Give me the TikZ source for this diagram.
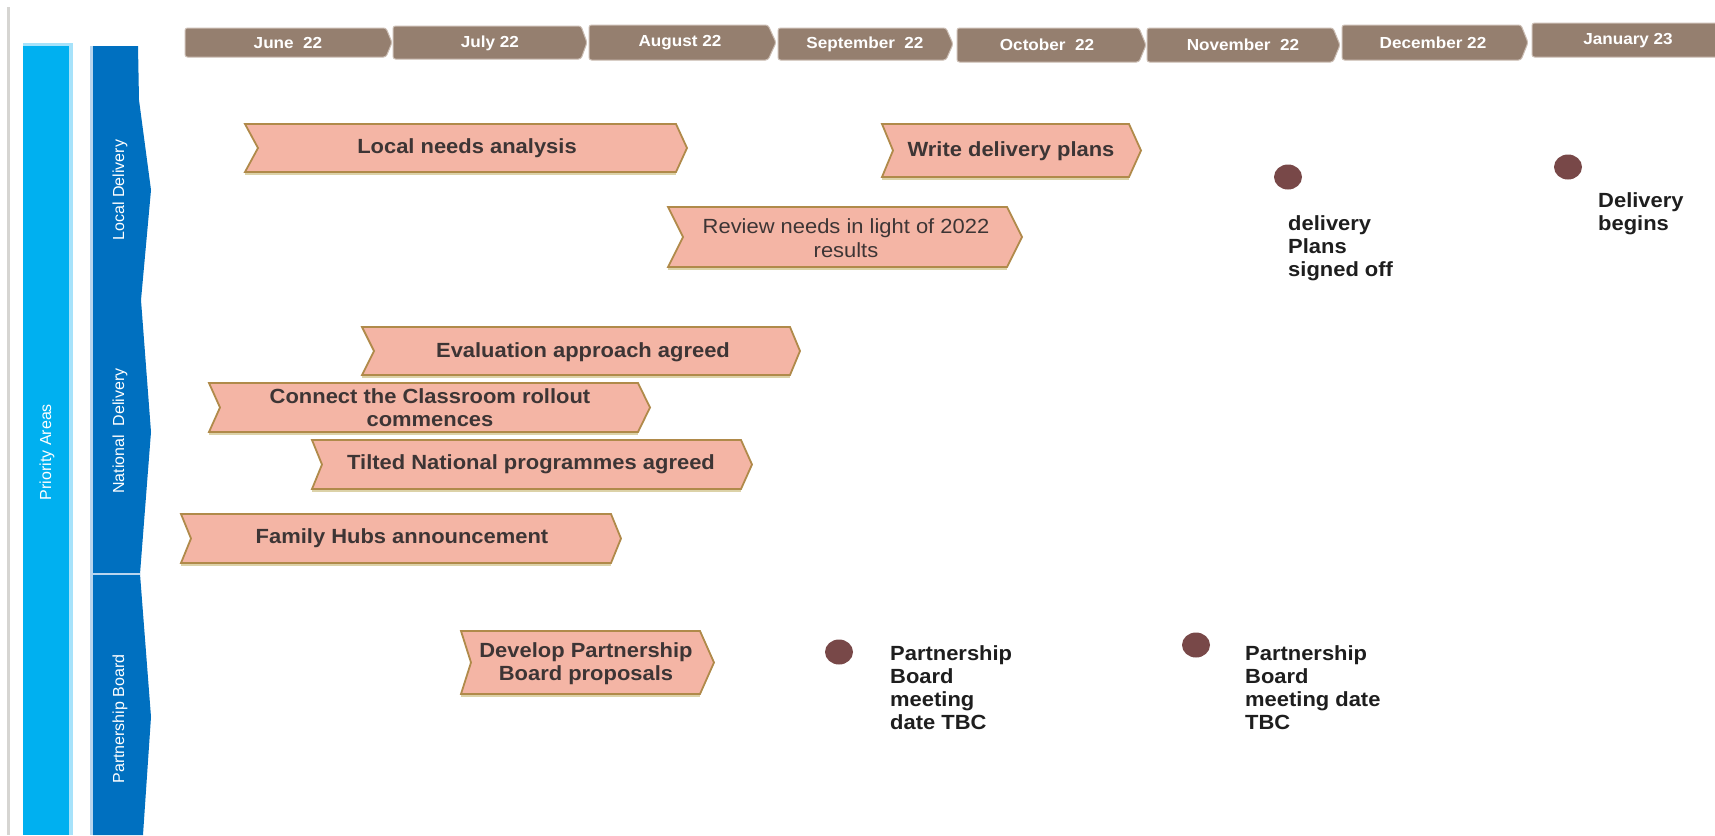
\documentclass[tikz,border=0pt]{standalone}
\usepackage{fontspec}
\setmainfont{Liberation Sans}[FakeStretch=1.07]
\newfontfamily\vfont{Liberation Sans}
\usetikzlibrary{shapes.geometric}
\definecolor{lblue}{HTML}{00B0F0}
\definecolor{lblueedge}{HTML}{A6E2FA}
\definecolor{dblue}{HTML}{0070C0}
\definecolor{dblueedge}{HTML}{B9D5EE}
\definecolor{monthc}{HTML}{957F6F}
\definecolor{monthedge}{HTML}{CBBDB3}
\definecolor{barfill}{HTML}{F4B5A5}
\definecolor{barline}{HTML}{B08A4A}
\definecolor{barshadow}{HTML}{DCD2A8}
\definecolor{bartxt}{HTML}{3D3535}
\definecolor{dotc}{HTML}{784848}
\definecolor{gline}{HTML}{D6D5D2}
\definecolor{mtxt}{HTML}{1E1E1E}
\newcommand\bfnt{\fontsize{20.5}{23}\selectfont\bfseries}
\newcommand\rfnt{\fontsize{20.5}{24}\selectfont}
\newcommand\taskbar[6]{% L notch R T y1 y2
  \draw[barshade] (#1,{#6+2.2}) -- (#3,{#6+2.2});
  \filldraw[barshape] (#1,#5) -- (#3,#5) -- (#4,{(#5+#6)/2}) -- (#3,#6) -- (#1,#6) -- ({#1+#2},{(#5+#6)/2}) -- cycle;}
\newcommand\monthbar[5]{% L R T y1 y2
  \filldraw[monthshape] (#1,#4) -- (#2,#4) -- (#3,{(#4+#5)/2}) -- (#2,#5) -- (#1,#5) -- cycle;}
\begin{document}
\begin{tikzpicture}[x=1pt,y=-1pt,
  barshape/.style={fill=barfill, draw=barline, line width=1.8pt, line join=miter},
  barshade/.style={draw=barshadow, line width=1.6pt},
  monthshape/.style={fill=monthc, draw=monthedge, line width=1pt, rounded corners=2.5pt},
  bartext/.style={text=bartxt, font=\bfnt, align=center, inner sep=0pt},
  bartextr/.style={text=bartxt, font=\rfnt, align=center, inner sep=0pt},
  monthtxt/.style={text=white, font=\fontsize{16}{18}\selectfont\bfseries, inner sep=0pt},
  vlabel/.style={text=white, font=\vfont\fontsize{16}{18}\selectfont, rotate=90, inner sep=0pt},
  dot/.style={ellipse, fill=dotc, minimum width=28, minimum height=25, inner sep=0pt},
  mtext/.style={text=mtxt, font=\bfnt, align=left, anchor=north west, inner sep=0pt}]
\path[use as bounding box] (0,0) rectangle (1715,835);
\fill[white] (0,0) rectangle (1715,835);
% left gray rule
\fill[gline] (7,7) rectangle (9.5,835);
% priority areas bar
\fill[lblueedge] (23,43) rectangle (73,835);
\fill[lblue] (23,46) rectangle (69,835);
% dark blue lanes
\fill[dblueedge] (90,46) rectangle (93,835);
\fill[dblue] (93,46) -- (138,46) -- (139,100) -- (151,190) -- (141,300) -- (151,432) -- (140,574)
  -- (151,717) -- (143,835) -- (93,835) -- cycle;
\draw[dblueedge, line width=2pt] (93,574) -- (140,574);
% month banners
\monthbar{185}{386}{392}{28}{57}
\monthbar{393}{581}{587}{26}{59}
\monthbar{589}{768}{776}{25}{60}
\monthbar{778}{946}{953}{28}{60}
\monthbar{957}{1139}{1146}{28}{62}
\monthbar{1147}{1333}{1340}{28}{62}
\monthbar{1342}{1521}{1528}{25}{60}
\monthbar{1532}{1722}{1722}{23}{57}
\node[monthtxt] (m1) at (288,43) {June\ \ 22};
\node[monthtxt] (m2) at (490,43) {July 22};
\node[monthtxt] (m3) at (680,43) {August 22};
\node[monthtxt] (m4) at (865,44) {September\ \ 22};
\node[monthtxt] (m5) at (1047,45) {October\ \ 22};
\node[monthtxt] (m6) at (1243,45) {November\ \ 22};
\node[monthtxt] (m7) at (1433,43) {December 22};
\node[monthtxt] (m8) at (1628,41) {January 23};
% lane labels
\node[vlabel] (pa) at (47,452) {Priority Areas};
\node[vlabel] (ld) at (120,190) {Local Delivery};
\node[vlabel] (nd) at (120,431) {National\ \ Delivery};
\node[vlabel] (pb) at (120,719) {Partnership Board};
% task bars
\taskbar{245}{13}{676}{687}{124}{172}
\taskbar{882}{11}{1129}{1141}{124}{177}
\taskbar{668}{15}{1007}{1022}{207}{267}
\taskbar{362}{12}{790}{800}{327}{375}
\taskbar{209}{11}{638}{650}{383}{432}
\taskbar{312}{10}{741}{752}{440}{489}
\taskbar{181}{10}{611}{621}{514}{563}
\taskbar{461}{10}{700}{714}{631}{694}
\node[bartext] (t1) at (467,148) {Local needs analysis};
\node[bartext] (t2) at (1011,151) {Write delivery plans};
\node[bartextr] (t3) at (846,238) {Review needs in light of 2022\\results};
\node[bartext] (t4) at (583,352) {Evaluation approach agreed};
\node[bartext] (t5) at (430,408) {Connect the Classroom rollout\\commences};
\node[bartext] (t6) at (531,464) {Tilted National programmes agreed};
\node[bartext] (t7) at (402,538) {Family Hubs announcement};
\node[bartext] (t8) at (586,664) {Develop Partnership\\Board proposals};
% milestones
\node[dot] (d1) at (1288,177) {};
\node[dot] (d2) at (1568,167) {};
\node[dot] (d3) at (839,652) {};
\node[dot] (d4) at (1196,645) {};
\node[mtext] (x1) at (1288,215) {delivery\\Plans\\signed off};
\node[mtext] (x2) at (1598,192) {Delivery\\begins};
\node[mtext] (x3) at (890,645) {Partnership\\Board\\meeting\\date TBC};
\node[mtext] (x4) at (1245,645) {Partnership\\Board\\meeting date\\TBC};
\end{tikzpicture}
\end{document}
